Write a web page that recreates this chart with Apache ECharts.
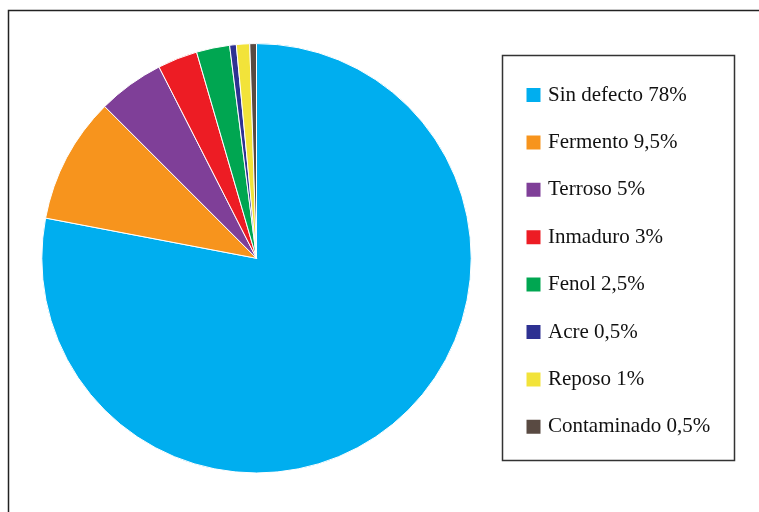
<!DOCTYPE html>
<html>
<head>
<meta charset="utf-8">
<script src="https://cdn.jsdelivr.net/npm/echarts@6/dist/echarts.min.js"></script>
<style>html,body{margin:0;padding:0;background:#fff}#c{width:759px;height:512px}</style>
</head>
<body>
<div id="c"></div>
<script>
const categories = ['Sin defecto 78%', 'Fermento 9,5%', 'Terroso 5%', 'Inmaduro 3%', 'Fenol 2,5%', 'Acre 0,5%', 'Reposo 1%', 'Contaminado 0,5%'];
const values = [78, 9.5, 5, 3, 2.5, 0.5, 1, 0.5];
const colors = ['#00AEEF', '#F7941D', '#7F3F98', '#ED1C24', '#00A651', '#2E3192', '#F2E33A', '#594A42'];

const chart = echarts.init(document.getElementById('c'), null, {renderer: 'canvas'});
chart.setOption({
  animation: false,
  backgroundColor: '#ffffff',
  color: colors,
  graphic: [
    {type: 'rect', shape: {x: 8.5, y: 10.5, width: 800, height: 600}, style: {fill: 'none', stroke: '#222', lineWidth: 1.5}, z: 0},
    {type: 'rect', shape: {x: 502.5, y: 55.5, width: 232, height: 405}, style: {fill: 'none', stroke: '#333', lineWidth: 1.5}, z: 0}
  ],
  legend: {
    orient: 'vertical',
    left: 524.5,
    top: 84.5,
    padding: 0,
    icon: 'rect',
    itemWidth: 16,
    itemHeight: 16,
    itemGap: 26.4,
    selectedMode: false,
    textStyle: {fontFamily: 'Liberation Serif', fontSize: 21, color: '#111', lineHeight: 21, padding: [0, 0, 0, 1.5]},
    data: categories
  },
  series: [{
    type: 'pie',
    center: [256.5, 258.3],
    radius: [0, 214.7],
    startAngle: 90,
    clockwise: true,
    label: {show: false},
    labelLine: {show: false},
    itemStyle: {borderColor: '#ffffff', borderWidth: 1},
    emphasis: {disabled: true},
    data: categories.map((n, i) => ({name: n, value: values[i]}))
  }]
});
</script>
</body>
</html>
